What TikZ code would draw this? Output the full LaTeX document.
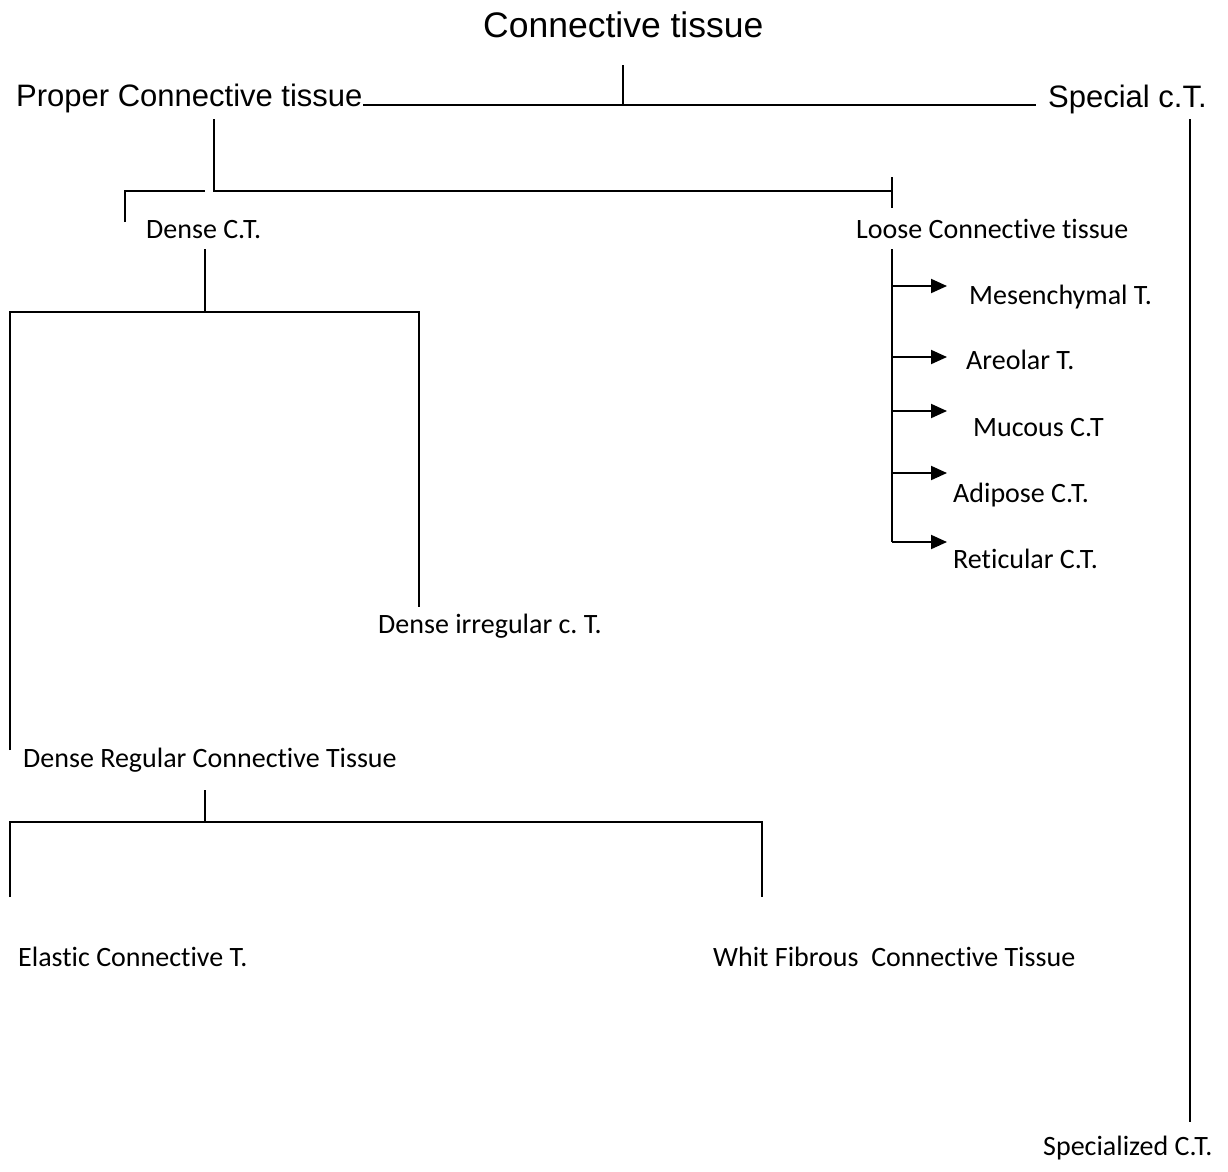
\documentclass[tikz,border=0pt]{standalone}
\usepackage{fontspec}
\setmainfont[Ligatures=NoCommon]{Carlito}
\newfontfamily\arialf{Liberation Sans}
\usetikzlibrary{arrows.meta}
\frenchspacing
\begin{document}
\begin{tikzpicture}[x=1pt,y=-1pt,
  lbl/.style={anchor=base west, inner sep=0pt, font=\fontsize{28}{30}\selectfont},
  big/.style={anchor=base west, inner sep=0pt, font=\arialf\fontsize{31}{34}\selectfont},
  conn/.style={draw=black, line width=2pt, line join=miter},
  arr/.style={conn, -{Triangle[length=16pt,width=14pt]}}]
\useasboundingbox (0,0) rectangle (1228,1171);

% texts
\node[big, font=\arialf\fontsize{35.5}{40}\selectfont] (root) at (483,37) {Connective tissue};
\node[big] (proper) at (16,106) {Proper Connective tissue};
\node[big] (special) at (1048,107) {Special c.T.};
\node[lbl] (dense) at (146,238) {Dense C.T.};
\node[lbl] (loose) at (856,238) {Loose Connective tissue};
\node[lbl] (meso) at (969,304) {Mesenchymal T.};
\node[lbl] (areo) at (966,369) {Areolar T.};
\node[lbl] (muc) at (973,436) {Mucous C.T};
\node[lbl] (adi) at (953,502) {Adipose C.T.};
\node[lbl] (ret) at (953,568) {Reticular C.T.};
\node[lbl] (dirr) at (378,633) {Dense irregular c. T.};
\node[lbl] (dreg) at (23,767) {Dense Regular Connective Tissue};
\node[lbl] (elas) at (18,966) {Elastic Connective T.};
\node[lbl] (whit) at (713,966) {Whit Fibrous\ \ Connective Tissue};
\node[lbl] (spz) at (1043,1155) {Specialized C.T.};

% junction coordinates
\coordinate (r1) at (623,65);
\coordinate (h1m) at (623,105);
\coordinate (h1l) at (363,105);
\coordinate (h1r) at (1036,105);
\coordinate (p1) at (214,119);
\coordinate (p2) at (214,191);
\coordinate (lt) at (892,191);
\coordinate (lt1) at (892,177);
\coordinate (lt2) at (892,208);
\coordinate (dl1) at (125,222);
\coordinate (dl2) at (125,191);
\coordinate (dl3) at (205,191);
\coordinate (d1) at (205,249);
\coordinate (d2) at (205,312);
\coordinate (dL) at (10,312);
\coordinate (dLb) at (10,750);
\coordinate (dR) at (419,312);
\coordinate (dRb) at (419,607);
\coordinate (g1) at (205,790);
\coordinate (g2) at (205,822);
\coordinate (gL) at (10,822);
\coordinate (gLb) at (10,897);
\coordinate (gR) at (762,822);
\coordinate (gRb) at (762,897);
\coordinate (l1) at (892,249);
\coordinate (l2) at (892,542);
\coordinate (s1) at (1190,119);
\coordinate (s2) at (1190,1122);

% connectors
\draw[conn] (r1) -- (h1m);
\draw[conn] (h1l) -- (h1r);
\draw[conn] (p1) -- (p2) -- (lt);
\draw[conn] (lt1) -- (lt2);
\draw[conn] (dl1) -- (dl2) -- (dl3);
\draw[conn] (d1) -- (d2);
\draw[conn] (dLb) -- (dL) -- (dR) -- (dRb);
\draw[conn] (g1) -- (g2);
\draw[conn] (gLb) -- (gL) -- (gR) -- (gRb);
\draw[conn] (l1) -- (l2);
\foreach \yy in {286,357,411,473,542}{
  \draw[arr] (892,\yy) -- (947,\yy);
}
\draw[conn] (s1) -- (s2);
\end{tikzpicture}
\end{document}
